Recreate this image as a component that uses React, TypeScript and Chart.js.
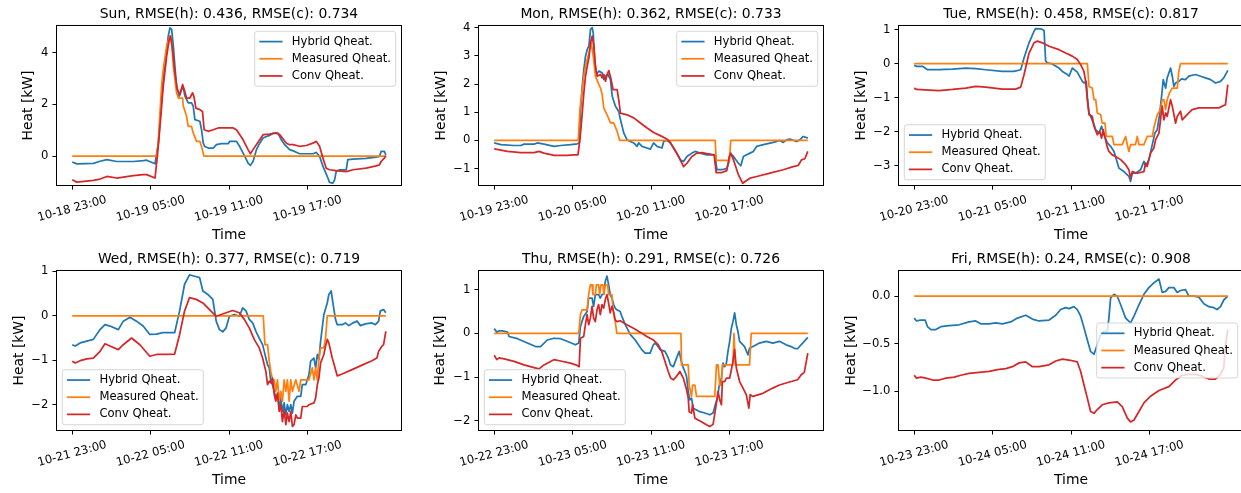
import React, { useEffect, useRef } from "react";
import { Chart, registerables } from "chart.js";

Chart.register(...registerables);

type Series = [number, number][];

const FONT = '"DejaVu Sans", sans-serif';
const seriesNames = ["Hybrid Qheat.", "Measured Qheat.", "Conv Qheat."];
const seriesColors = ["#1f77b4", "#ff7f0e", "#d62728"];
const xTickHours = [0, 6, 12, 18];

// ---------- Sun ----------
const sunXLabels = ["10-18 23:00", "10-19 05:00", "10-19 11:00", "10-19 17:00"];
const sunYTicks = [0, 2, 4];
const sunHybrid: Series = [[0,-0.23],[0.36,-0.3],[1.63,-0.28],[2.14,-0.2],[2.65,-0.14],[3.41,-0.21],[4.68,-0.21],[5.45,-0.18],[5.7,-0.16],[6.34,-0.3],[6.59,0.5],[6.84,2.19],[6.97,2.96],[7.15,3.74],[7.35,4.65],[7.48,4.97],[7.61,4.91],[7.74,4.26],[7.86,3.48],[7.99,2.71],[8.19,2.32],[8.37,2.58],[8.5,2.64],[8.63,2.32],[8.88,2.06],[9.13,2.06],[9.26,1.94],[9.39,1.41],[9.77,1.35],[9.9,1.02],[10.03,0.5],[10.15,0.37],[10.41,0.31],[10.79,0.31],[11.04,0.44],[11.42,0.48],[11.93,0.48],[12.06,0.57],[12.57,0.57],[12.82,0.37],[13.21,-0.01],[13.46,-0.27],[13.64,-0.36],[13.84,-0.21],[14.1,0.25],[14.35,0.5],[14.61,0.7],[14.86,0.76],[15.11,0.8],[15.37,0.89],[15.75,0.89],[16.0,0.63],[16.26,0.44],[16.64,0.25],[17.02,0.18],[17.4,0.09],[17.91,0.09],[18.42,0.09],[18.68,0.14],[18.93,-0.01],[19.19,-0.4],[19.57,-0.85],[19.69,-1.02],[19.95,-1.05],[20.08,-0.92],[20.2,-0.6],[20.46,-0.53],[20.97,-0.53],[21.09,-0.14],[21.48,-0.12],[22.49,-0.09],[23.26,-0.04],[23.51,-0.01],[23.64,0.18],[23.89,0.18],[24,0.05]];
const sunMeasured: Series = [[0,0],[6.46,0],[6.59,0.5],[6.72,1.67],[6.84,2.72],[6.97,3.37],[7.23,4.27],[7.48,4.66],[7.61,4.39],[7.74,3.48],[7.99,2.45],[8.12,2.25],[8.45,2.25],[8.5,1.94],[8.75,1.55],[8.88,1.15],[9.13,1.15],[9.26,0.9],[9.52,0.57],[9.77,0.57],[9.9,0.37],[10.08,0],[24,0]];
const sunConv: Series = [[0,-0.92],[0.36,-1.01],[1.63,-0.94],[2.14,-0.89],[2.65,-0.79],[3.41,-0.85],[4.68,-0.76],[5.45,-0.72],[5.7,-0.72],[6.34,-0.85],[6.52,0],[6.72,1.15],[6.97,2.71],[7.23,3.87],[7.43,4.52],[7.53,4.65],[7.68,4.13],[7.86,3.22],[8.04,2.58],[8.24,2.38],[8.45,2.77],[8.57,2.58],[8.75,2.25],[9.01,2.25],[9.21,2.45],[9.31,2.32],[9.47,1.86],[9.77,1.8],[9.97,1.73],[10.1,1.02],[10.41,0.96],[10.79,1.02],[11.17,1.09],[12.32,1.09],[12.57,1.02],[13.08,0.63],[13.46,0.25],[13.64,0.09],[13.84,0.25],[14.35,0.63],[14.61,0.83],[15.11,0.85],[15.62,0.89],[15.88,0.83],[16.39,0.5],[16.64,0.44],[16.9,0.44],[17.4,0.38],[17.91,0.41],[18.42,0.5],[18.68,0.57],[18.93,0.38],[19.19,-0.08],[19.44,-0.47],[19.69,-0.53],[20.2,-0.56],[20.97,-0.6],[21.48,-0.53],[22.49,-0.47],[23.26,-0.38],[23.51,-0.34],[23.64,-0.21],[23.89,-0.08],[24,0.01]];

// ---------- Mon ----------
const monXLabels = ["10-19 23:00", "10-20 05:00", "10-20 11:00", "10-20 17:00"];
const monYTicks = [-1, 0, 1, 2, 3, 4];
const monHybrid: Series = [[0,-0.09],[0.51,-0.15],[1.53,-0.18],[2.03,-0.18],[2.29,-0.13],[3.05,-0.13],[3.31,-0.09],[3.81,-0.13],[4.58,-0.21],[5.09,-0.18],[5.85,-0.15],[6.36,-0.12],[6.51,-0.09],[6.61,1.09],[6.74,1.92],[6.86,2.52],[6.99,2.99],[7.12,3.23],[7.25,3.35],[7.37,3.94],[7.5,4.0],[7.58,3.82],[7.68,2.87],[7.83,2.34],[8.01,2.46],[8.26,2.4],[8.39,2.16],[8.52,2.28],[8.7,2.34],[8.9,2.16],[9.03,1.57],[9.28,1.21],[9.53,1.03],[9.66,0.74],[9.92,0.26],[10.17,0.02],[10.42,-0.04],[10.68,-0.09],[10.93,-0.21],[11.06,-0.09],[11.31,-0.21],[11.7,-0.27],[11.95,-0.31],[12.2,-0.09],[12.46,-0.21],[12.84,-0.27],[12.97,-0.04],[13.22,0],[13.48,-0.09],[13.73,-0.27],[13.98,-0.45],[14.24,-0.69],[14.49,-0.75],[14.75,-0.57],[15.13,-0.45],[15.38,-0.39],[15.76,-0.45],[16.27,-0.51],[16.91,-0.51],[17.04,-1.04],[17.42,-1.04],[17.8,-0.99],[17.93,-0.81],[18.05,-0.45],[18.31,-0.57],[18.69,-0.81],[18.87,-0.9],[19.07,-0.57],[19.32,-0.51],[19.58,-0.45],[19.83,-0.39],[20.09,-0.21],[20.6,-0.15],[21.36,-0.07],[21.87,0],[22.12,-0.07],[22.37,0.02],[22.63,0.05],[23.14,-0.04],[23.39,0.02],[23.65,0.14],[24,0.08]];
const monMeasured: Series = [[0,0],[6.43,0],[6.56,1.09],[6.74,1.8],[6.86,2.28],[6.99,2.63],[7.12,2.87],[7.25,3.1],[7.42,3.47],[7.58,2.99],[7.75,2.28],[8.01,1.98],[8.14,1.86],[8.26,1.63],[8.39,1.15],[8.64,0.91],[8.9,0.62],[9.15,0.62],[9.41,0.32],[9.61,0],[16.91,0],[16.99,-0.71],[18.0,-0.71],[18.1,0],[24,0]];
const monConv: Series = [[0,-0.3],[1.02,-0.39],[2.03,-0.43],[3.05,-0.43],[3.43,-0.39],[3.81,-0.45],[4.58,-0.53],[5.59,-0.53],[6.1,-0.51],[6.41,-0.51],[6.56,0.02],[6.74,0.97],[6.86,1.69],[6.99,2.28],[7.12,2.63],[7.25,2.93],[7.37,3.47],[7.5,3.7],[7.63,3.35],[7.75,2.63],[7.88,2.28],[8.14,2.34],[8.26,2.22],[8.39,2.34],[8.52,2.1],[8.64,2.34],[8.77,2.48],[8.95,2.16],[9.1,1.8],[9.41,1.8],[9.53,1.45],[9.66,0.97],[10.17,0.91],[10.68,0.8],[11.19,0.62],[11.7,0.44],[12.2,0.28],[12.71,0.17],[13.22,0.05],[13.48,-0.07],[13.73,-0.27],[14.11,-0.57],[14.49,-0.93],[14.75,-0.81],[15.13,-0.57],[15.51,-0.45],[15.89,-0.43],[16.27,-0.47],[16.83,-0.51],[16.99,-1.14],[17.42,-1.14],[17.8,-1.07],[18.0,-0.57],[18.1,-0.45],[18.31,-0.69],[18.69,-1.22],[19.02,-1.52],[19.2,-1.46],[19.58,-1.34],[20.09,-1.28],[21.1,-1.16],[22.12,-1.04],[22.88,-0.93],[23.26,-0.89],[23.52,-0.69],[23.77,-0.65],[24,-0.39]];

// ---------- Tue ----------
const tueXLabels = ["10-20 23:00", "10-21 05:00", "10-21 11:00", "10-21 17:00"];
const tueYTicks = [-3, -2, -1, 0, 1];
const tueHybrid: Series = [[0,-0.05],[0.18,-0.08],[0.64,-0.08],[1.02,-0.18],[1.91,-0.18],[2.93,-0.16],[3.95,-0.13],[4.71,-0.15],[5.48,-0.18],[6.75,-0.23],[7.64,-0.23],[8.15,-0.18],[8.41,0.17],[8.79,0.61],[9.17,0.95],[9.3,1.03],[9.68,1.02],[9.81,1.0],[9.94,0.97],[10.06,0.07],[10.19,0.02],[10.57,-0.01],[11.08,-0.13],[11.34,-0.23],[11.72,-0.32],[11.85,-0.37],[12.1,-0.13],[12.48,-0.25],[12.87,-0.52],[12.99,-0.57],[13.17,-0.52],[13.27,-1.06],[13.38,-1.45],[13.5,-1.55],[13.76,-1.79],[13.89,-1.94],[14.14,-2.04],[14.34,-1.84],[14.52,-2.09],[14.78,-2.33],[15.03,-2.43],[15.29,-2.58],[15.67,-3.07],[16.05,-3.17],[16.43,-3.31],[16.56,-3.46],[16.69,-3.22],[16.94,-3.22],[17.32,-3.12],[17.58,-2.87],[17.71,-3.02],[17.96,-2.82],[18.22,-2.38],[18.42,-2.04],[18.6,-1.94],[18.78,-1.5],[18.93,-0.96],[19.06,-0.47],[19.24,-0.72],[19.36,-0.42],[19.62,-0.13],[19.75,-0.37],[19.87,-0.67],[20.0,-0.57],[20.25,-0.52],[20.46,-0.45],[20.76,-0.47],[21.02,-0.37],[21.53,-0.32],[21.91,-0.37],[22.29,-0.42],[22.68,-0.47],[23.06,-0.57],[23.44,-0.52],[23.69,-0.42],[24,-0.2]];
const tueMeasured: Series = [[0,0],[13.25,0],[13.38,-0.67],[13.63,-0.72],[13.76,-1.06],[13.89,-1.06],[14.01,-1.45],[14.27,-1.5],[14.39,-1.75],[14.6,-1.75],[14.7,-2.14],[15.16,-2.14],[15.29,-2.38],[15.92,-2.38],[16.18,-2.14],[16.31,-2.38],[16.43,-2.58],[16.56,-2.38],[16.94,-2.38],[17.07,-2.14],[17.2,-2.38],[17.58,-2.38],[17.83,-2.14],[18.22,-2.14],[18.34,-1.89],[18.6,-1.5],[18.85,-1.35],[18.98,-1.06],[19.11,-1.06],[19.24,-1.35],[19.36,-1.06],[19.54,-0.86],[19.75,-0.72],[20.13,-0.72],[20.25,-0.23],[20.38,0],[24,0]];
const tueConv: Series = [[0,-0.72],[0.18,-0.76],[1.15,-0.78],[1.91,-0.79],[2.93,-0.76],[3.95,-0.72],[4.71,-0.67],[5.48,-0.69],[6.75,-0.75],[7.77,-0.75],[8.15,-0.69],[8.41,-0.32],[8.79,0.31],[9.17,0.61],[9.43,0.66],[9.81,0.61],[10.32,0.51],[11.08,0.41],[11.59,0.31],[12.1,0.22],[12.48,0.12],[12.74,-0.03],[12.99,-0.23],[13.12,-0.52],[13.25,-1.06],[13.38,-1.5],[13.63,-1.55],[13.76,-1.84],[14.01,-2.09],[14.2,-1.99],[14.34,-2.19],[14.46,-1.94],[14.59,-2.14],[14.76,-2.43],[14.9,-2.58],[15.16,-2.68],[15.41,-2.73],[15.8,-2.82],[16.18,-2.97],[16.43,-3.12],[16.56,-3.36],[16.69,-3.17],[17.07,-3.22],[17.58,-3.17],[17.71,-2.92],[17.83,-3.02],[18.09,-2.63],[18.34,-2.48],[18.47,-2.24],[18.73,-2.04],[18.85,-1.65],[18.98,-1.25],[19.11,-1.65],[19.24,-1.45],[19.36,-1.55],[19.62,-1.06],[19.75,-1.25],[20.0,-1.75],[20.13,-1.55],[20.38,-1.4],[20.51,-1.65],[20.76,-1.55],[21.02,-1.45],[21.27,-1.35],[21.78,-1.3],[22.8,-1.3],[23.31,-1.3],[23.57,-1.25],[23.82,-1.21],[24,-0.62]];

// ---------- Wed ----------
const wedXLabels = ["10-21 23:00", "10-22 05:00", "10-22 11:00", "10-22 17:00"];
const wedYTicks = [-2, -1, 0, 1];
const wedHybrid: Series = [[0,-0.65],[0.23,-0.68],[0.61,-0.61],[1.12,-0.57],[1.62,-0.53],[2.13,-0.31],[2.51,-0.2],[2.89,-0.23],[3.53,-0.31],[3.91,-0.12],[4.42,-0.03],[4.92,-0.12],[5.43,-0.23],[5.94,-0.42],[6.45,-0.41],[6.95,-0.38],[7.46,-0.38],[7.84,-0.38],[8.22,0.11],[8.6,0.71],[8.98,0.92],[9.37,0.89],[9.75,0.86],[10.0,0.56],[10.38,0.48],[10.76,0.37],[11.02,-0.12],[11.27,-0.31],[11.52,-0.36],[11.78,-0.27],[12.03,-0.01],[12.41,0.03],[12.79,-0.01],[13.05,0.18],[13.3,0.11],[13.55,-0.08],[13.81,-0.16],[14.06,-0.35],[14.31,-0.5],[14.57,-0.65],[14.7,-0.8],[14.82,-0.95],[14.95,-1.1],[15.08,-1.17],[15.2,-1.47],[15.33,-1.55],[15.46,-1.7],[15.58,-1.85],[15.71,-1.77],[15.84,-2.04],[15.96,-1.85],[16.09,-2.15],[16.22,-1.96],[16.35,-2.23],[16.47,-2.0],[16.6,-2.15],[16.73,-2.0],[16.85,-2.19],[16.98,-1.92],[17.23,-1.81],[17.49,-1.81],[17.61,-1.55],[17.87,-1.55],[18.12,-1.32],[18.25,-1.02],[18.5,-0.95],[18.63,-1.17],[18.76,-0.87],[18.88,-0.98],[19.01,-0.57],[19.26,0.03],[19.52,0.29],[19.64,0.48],[19.82,0.56],[19.95,0.29],[20.15,-0.08],[20.28,-0.2],[20.66,-0.2],[20.91,-0.16],[21.17,-0.22],[21.42,-0.17],[21.8,-0.12],[22.06,-0.22],[22.44,-0.18],[22.94,-0.16],[23.2,-0.2],[23.45,-0.12],[23.58,0.11],[23.83,0.14],[24,0.07]];
const wedMeasured: Series = [[0,0],[14.62,0],[14.75,-0.65],[14.95,-0.65],[15.08,-1.02],[15.2,-1.25],[15.33,-1.44],[15.46,-1.44],[15.58,-1.7],[15.71,-1.44],[15.84,-1.92],[15.96,-1.7],[16.09,-1.92],[16.22,-1.44],[16.35,-1.7],[16.47,-1.44],[16.6,-1.92],[16.73,-1.44],[16.85,-1.7],[17.11,-1.44],[17.36,-1.7],[17.49,-1.44],[18.12,-1.44],[18.38,-1.17],[18.5,-1.44],[18.63,-1.17],[18.76,-1.44],[18.88,-0.95],[19.01,-0.72],[19.26,-0.72],[19.39,-0.5],[19.52,0],[24,0]];
const wedConv: Series = [[0,-1.02],[0.23,-1.06],[0.61,-1.01],[1.12,-0.97],[1.62,-0.95],[2.13,-0.8],[2.51,-0.63],[2.89,-0.68],[3.53,-0.76],[3.91,-0.65],[4.54,-0.5],[5.18,-0.65],[5.94,-0.91],[6.45,-0.87],[7.21,-0.87],[7.84,-0.86],[8.22,-0.42],[8.6,0.11],[8.98,0.41],[9.49,0.37],[10.0,0.29],[10.51,0.14],[11.02,-0.01],[11.4,0.03],[11.78,0.07],[12.28,0.12],[12.79,0.07],[13.17,-0.08],[13.55,-0.27],[13.93,-0.53],[14.31,-0.72],[14.57,-0.95],[14.82,-1.25],[14.95,-1.55],[15.08,-1.47],[15.2,-1.51],[15.33,-1.4],[15.46,-1.77],[15.58,-1.92],[15.71,-1.74],[15.84,-2.15],[15.96,-2.0],[16.09,-2.38],[16.22,-2.11],[16.35,-2.45],[16.47,-2.19],[16.6,-2.38],[16.73,-2.15],[16.85,-2.49],[16.98,-2.45],[17.11,-2.23],[17.23,-2.3],[17.49,-2.3],[17.61,-2.04],[17.99,-2.04],[18.12,-2.0],[18.5,-1.96],[18.63,-1.85],[18.76,-1.55],[18.88,-1.4],[19.01,-1.06],[19.26,-0.87],[19.39,-0.68],[19.52,-0.53],[19.64,-0.61],[19.9,-0.95],[20.15,-1.21],[20.28,-1.35],[20.66,-1.31],[21.42,-1.21],[22.18,-1.11],[22.94,-1.01],[23.32,-0.95],[23.45,-0.8],[23.71,-0.68],[23.83,-0.65],[24,-0.35]];

// ---------- Thu ----------
const thuXLabels = ["10-22 23:00", "10-23 05:00", "10-23 11:00", "10-23 17:00"];
const thuYTicks = [-2, -1, 0, 1];
const thuHybrid: Series = [[0,0.11],[0.2,0.03],[0.38,0.06],[0.63,0.06],[1.02,0.03],[1.14,-0.07],[1.78,-0.12],[2.54,-0.22],[3.17,-0.3],[3.55,-0.3],[4.06,-0.15],[4.57,-0.11],[5.08,-0.12],[5.58,-0.18],[6.22,-0.26],[6.47,-0.22],[6.6,0.16],[6.85,0.39],[7.11,0.5],[7.23,0.81],[7.49,0.81],[7.61,0.62],[7.74,0.89],[7.99,0.89],[8.12,0.81],[8.25,0.89],[8.38,0.9],[8.5,1.19],[8.63,1.31],[8.76,1.11],[8.88,0.89],[9.01,0.81],[9.14,0.66],[9.26,0.58],[9.39,0.54],[9.64,0.5],[9.77,0.39],[10.03,0.2],[10.41,-0.02],[10.79,-0.15],[11.04,-0.26],[11.29,-0.37],[11.55,-0.45],[11.93,-0.45],[12.18,-0.26],[12.31,-0.22],[12.44,-0.26],[12.69,-0.37],[13.07,-0.41],[13.32,-0.56],[13.5,-0.72],[13.71,-0.76],[13.96,-0.56],[14.16,-0.41],[14.29,-0.6],[14.47,-0.79],[14.59,-0.87],[14.72,-0.98],[14.85,-1.33],[14.97,-1.52],[15.1,-1.48],[15.23,-1.71],[15.48,-1.75],[15.74,-1.79],[16.12,-1.82],[16.5,-1.86],[16.75,-1.82],[16.95,-1.6],[17.08,-1.48],[17.21,-1.21],[17.39,-1.02],[17.51,-0.68],[17.64,-0.76],[17.77,-0.68],[17.89,-0.41],[18.02,-0.18],[18.15,0.12],[18.27,0.27],[18.4,0.47],[18.53,0.2],[18.65,0.05],[18.78,-0.18],[18.91,-0.22],[19.16,-0.3],[19.42,-0.49],[19.54,-0.34],[19.8,-0.3],[20.3,-0.22],[20.81,-0.18],[21.32,-0.22],[21.83,-0.18],[22.34,-0.26],[22.72,-0.3],[22.97,-0.34],[23.22,-0.35],[23.48,-0.26],[23.73,-0.18],[24,-0.09]];
const thuMeasured: Series = [[0,0],[6.47,0],[6.6,0.43],[6.73,0.54],[7.11,0.54],[7.23,0.89],[7.36,1.11],[7.49,1.11],[7.56,0.89],[7.74,0.89],[7.82,1.11],[7.99,1.11],[8.07,0.89],[8.17,1.11],[8.32,1.11],[8.4,0.89],[8.5,1.11],[8.68,1.11],[8.76,0.89],[9.01,0.89],[9.09,0.54],[9.26,0.27],[9.39,0],[14.29,0],[14.34,-0.72],[14.85,-0.72],[14.92,-1.18],[15.1,-1.44],[15.18,-1.18],[15.36,-1.18],[15.48,-1.44],[16.88,-1.44],[17.01,-0.72],[17.13,-0.72],[17.26,-1.18],[17.39,-1.18],[17.46,-0.72],[18.27,-0.72],[18.35,0],[18.45,-0.72],[19.54,-0.72],[19.67,0],[24,0]];
const thuConv: Series = [[0,-0.5],[0.2,-0.6],[0.38,-0.56],[0.76,-0.58],[1.52,-0.64],[2.28,-0.72],[3.05,-0.78],[3.43,-0.81],[3.81,-0.72],[4.57,-0.6],[5.08,-0.63],[5.84,-0.68],[6.35,-0.73],[6.5,-0.76],[6.6,-0.11],[6.85,-0.07],[6.98,0.2],[7.11,0.43],[7.23,0.2],[7.36,0.35],[7.49,0.62],[7.61,0.35],[7.74,0.27],[7.87,0.54],[7.99,0.66],[8.12,0.43],[8.25,0.66],[8.38,0.58],[8.5,0.77],[8.63,0.89],[8.76,0.69],[8.88,0.47],[9.01,0.62],[9.14,0.5],[9.26,0.31],[9.39,0.27],[9.64,0.29],[10.15,0.2],[10.66,0.12],[11.17,0.03],[11.68,-0.07],[12.18,-0.15],[12.56,-0.26],[12.82,-0.41],[13.07,-0.64],[13.32,-0.87],[13.5,-1.02],[13.71,-1.06],[13.96,-0.98],[14.21,-0.87],[14.47,-1.02],[14.72,-1.29],[14.85,-1.48],[14.92,-1.79],[15.1,-1.82],[15.18,-1.63],[15.36,-1.94],[15.61,-1.98],[15.86,-2.02],[16.24,-2.09],[16.5,-2.13],[16.75,-2.08],[16.95,-1.71],[17.13,-1.33],[17.26,-1.52],[17.39,-1.63],[17.46,-1.1],[17.64,-1.1],[17.77,-1.02],[18.02,-1.02],[18.15,-0.83],[18.27,-0.64],[18.4,-0.37],[18.53,-0.79],[18.78,-1.1],[19.04,-1.25],[19.29,-1.4],[19.42,-1.6],[19.49,-1.71],[19.59,-1.4],[19.8,-1.44],[20.56,-1.37],[21.32,-1.25],[21.83,-1.18],[22.59,-1.11],[23.22,-1.06],[23.48,-0.95],[23.73,-0.89],[24,-0.45]];

// ---------- Fri ----------
const friXLabels = ["10-23 23:00", "10-24 05:00", "10-24 11:00", "10-24 17:00"];
const friYTicks = [-1, -0.5, 0];
const friHybrid: Series = [[0,-0.23],[0.18,-0.26],[0.51,-0.25],[0.84,-0.25],[1.02,-0.32],[1.27,-0.35],[1.66,-0.35],[2.04,-0.32],[2.68,-0.31],[3.44,-0.3],[4.2,-0.27],[4.71,-0.26],[5.1,-0.29],[5.73,-0.29],[6.24,-0.28],[6.75,-0.29],[7.39,-0.27],[7.9,-0.23],[8.54,-0.2],[9.04,-0.24],[9.55,-0.26],[10.32,-0.25],[10.83,-0.2],[11.21,-0.14],[11.59,-0.12],[11.85,-0.13],[12.23,-0.11],[12.48,-0.14],[12.74,-0.21],[12.99,-0.33],[13.25,-0.46],[13.5,-0.58],[13.76,-0.61],[14.01,-0.51],[14.27,-0.4],[14.52,-0.37],[14.78,-0.37],[14.9,-0.23],[15.03,-0.02],[15.29,0.02],[15.54,0.0],[15.8,-0.09],[16.18,-0.23],[16.56,-0.28],[16.82,-0.21],[17.2,-0.09],[17.58,0.02],[17.96,0.09],[18.34,0.14],[18.73,0.18],[18.98,0.04],[19.24,0.05],[19.49,0.09],[19.87,0.09],[20.13,0.04],[20.38,0.06],[20.76,0.07],[21.02,0.0],[21.4,0.0],[21.78,-0.01],[22.17,-0.08],[22.55,-0.11],[22.93,-0.12],[23.18,-0.14],[23.44,-0.11],[23.69,-0.04],[24,0.0]];
const friMeasured: Series = [[0,0],[24,0]];
const friConv: Series = [[0,-0.83],[0.18,-0.86],[0.51,-0.85],[0.89,-0.86],[1.4,-0.88],[1.91,-0.88],[2.42,-0.86],[3.06,-0.85],[3.57,-0.83],[4.2,-0.81],[4.97,-0.8],[5.73,-0.79],[6.37,-0.77],[7.01,-0.76],[7.52,-0.74],[8.03,-0.7],[8.54,-0.69],[9.04,-0.74],[9.55,-0.74],[10.32,-0.72],[10.83,-0.68],[11.34,-0.66],[11.85,-0.67],[12.48,-0.69],[12.74,-0.79],[12.99,-0.93],[13.25,-1.07],[13.5,-1.21],[13.76,-1.23],[14.01,-1.19],[14.39,-1.14],[14.9,-1.12],[15.54,-1.11],[15.92,-1.16],[16.31,-1.28],[16.56,-1.32],[16.82,-1.3],[17.2,-1.21],[17.58,-1.12],[18.09,-1.05],[18.73,-0.99],[19.49,-0.95],[20.0,-0.88],[20.51,-0.83],[21.02,-0.82],[21.53,-0.82],[22.04,-0.84],[22.55,-0.87],[23.06,-0.87],[23.44,-0.82],[23.69,-0.75],[23.82,-0.51],[24,-0.35]];

type PanelCfg = {
  title: string;
  hybrid: Series;
  measured: Series;
  conv: Series;
  yMin: number;
  yMax: number;
  yTicks: number[];
  decimals: number;
  xLabels: string[];
  legendLoc: string;
  yTitlePad: number;
};

const panels: PanelCfg[] = [
  { title: "Sun, RMSE(h): 0.436, RMSE(c): 0.734", hybrid: sunHybrid, measured: sunMeasured, conv: sunConv, yMin: -1.14, yMax: 5.06, yTicks: sunYTicks, decimals: 0, xLabels: sunXLabels, legendLoc: "upper right", yTitlePad: 20.15 },
  { title: "Mon, RMSE(h): 0.362, RMSE(c): 0.733", hybrid: monHybrid, measured: monMeasured, conv: monConv, yMin: -1.6, yMax: 4.08, yTicks: monYTicks, decimals: 0, xLabels: monXLabels, legendLoc: "upper right", yTitlePad: 10.65 },
  { title: "Tue, RMSE(h): 0.458, RMSE(c): 0.817", hybrid: tueHybrid, measured: tueMeasured, conv: tueConv, yMin: -3.58, yMax: 1.12, yTicks: tueYTicks, decimals: 0, xLabels: tueXLabels, legendLoc: "lower left", yTitlePad: 10.65 },
  { title: "Wed, RMSE(h): 0.377, RMSE(c): 0.719", hybrid: wedHybrid, measured: wedMeasured, conv: wedConv, yMin: -2.58, yMax: 1.02, yTicks: wedYTicks, decimals: 0, xLabels: wedXLabels, legendLoc: "lower left", yTitlePad: 10.65 },
  { title: "Thu, RMSE(h): 0.291, RMSE(c): 0.726", hybrid: thuHybrid, measured: thuMeasured, conv: thuConv, yMin: -2.22, yMax: 1.44, yTicks: thuYTicks, decimals: 0, xLabels: thuXLabels, legendLoc: "lower left", yTitlePad: 10.15 },
  { title: "Fri, RMSE(h): 0.24, RMSE(c): 0.908", hybrid: friHybrid, measured: friMeasured, conv: friConv, yMin: -1.41, yMax: 0.27, yTicks: friYTicks, decimals: 1, xLabels: friXLabels, legendLoc: "center right", yTitlePad: 0.65 },
];

const CANVAS_W = 421;
const CANVAS_H = 245;
const colLefts = [0, 422, 842];
const rowTops = [0, 245];

function fmtTick(v: number, decimals: number): string {
  return v.toFixed(decimals).replace("-", "\u2212");
}

const frameLegendPlugin = {
  id: "frameLegend",
  afterDraw(chart: any, _args: any, opts: any) {
    const { ctx, chartArea: a } = chart;
    ctx.save();
    // full box of spines
    ctx.strokeStyle = "#000";
    ctx.lineWidth = 1;
    ctx.strokeRect(a.left, a.top, a.right - a.left, a.bottom - a.top);

    // legend
    const fs = 11.6;
    ctx.font = `${fs}px ${FONT}`;
    const ds = chart.data.datasets;
    const pad = 0.4 * fs;
    const handle = 2 * fs;
    const gap = 0.8 * fs;
    const th = 0.98 * fs;
    const sp = 0.5 * fs;
    const axPad = 0.5 * fs;
    const tw = Math.max(...ds.map((d: any) => ctx.measureText(d.label).width));
    const w = pad + handle + gap + tw + pad;
    const h = 2 * pad + ds.length * th + (ds.length - 1) * sp;
    let x: number;
    let y: number;
    if (opts.loc === "upper right") {
      x = a.right - axPad - w;
      y = a.top + axPad;
    } else if (opts.loc === "lower left") {
      x = a.left + axPad;
      y = a.bottom - axPad - h;
    } else {
      x = a.right - axPad - w;
      y = (a.top + a.bottom) / 2 - h / 2;
    }
    ctx.beginPath();
    ctx.roundRect(x, y, w, h, 2.5);
    ctx.fillStyle = "rgba(255,255,255,0.8)";
    ctx.fill();
    ctx.strokeStyle = "rgba(204,204,204,0.8)";
    ctx.lineWidth = 1;
    ctx.stroke();
    ds.forEach((d: any, i: number) => {
      const cy = y + pad + th / 2 + i * (th + sp);
      ctx.beginPath();
      ctx.moveTo(x + pad, cy);
      ctx.lineTo(x + pad + handle, cy);
      ctx.strokeStyle = d.borderColor;
      ctx.lineWidth = 1.74;
      ctx.stroke();
      ctx.fillStyle = "#000";
      ctx.textBaseline = "middle";
      ctx.textAlign = "left";
      ctx.fillText(d.label, x + pad + handle + gap, cy);
    });
    ctx.restore();
  },
};

function Panel({ p, left, top }: { p: PanelCfg; left: number; top: number }) {
  const ref = useRef<HTMLCanvasElement>(null);
  useEffect(() => {
    const canvas = ref.current!;
    const tickGrid = {
      display: true,
      drawOnChartArea: false,
      drawTicks: true,
      tickLength: 4.05,
      color: "#000",
      lineWidth: 1,
    };
    const chart = new Chart(canvas, {
      type: "line",
      data: {
        datasets: [p.hybrid, p.measured, p.conv].map((s, i) => ({
          label: seriesNames[i],
          data: s.map(([x, y]) => ({ x, y })),
          borderColor: seriesColors[i],
          backgroundColor: seriesColors[i],
          borderWidth: 1.74,
          pointRadius: 0,
          pointHoverRadius: 0,
          tension: 0,
          fill: false,
          order: 3 - i,
          borderJoinStyle: "round",
        })),
      },
      options: {
        animation: false,
        responsive: false,
        devicePixelRatio: 1,
        events: [],
        layout: { padding: { left: 0, top: 0, right: 19.5, bottom: 0 }, autoPadding: false },
        plugins: {
          legend: { display: false },
          tooltip: { enabled: false },
          title: {
            display: true,
            fullSize: false,
            text: p.title,
            color: "#000",
            font: { family: FONT, size: 13.9, weight: "normal", lineHeight: 1.2 },
            padding: { top: 5.65, bottom: 3.15 },
          },
          frameLegend: { loc: p.legendLoc },
        } as any,
        scales: {
          x: {
            type: "linear",
            min: -1.2,
            max: 25.2,
            bounds: "data",
            afterFit: (s: any) => {
              s.height = 59.5;
              s.paddingLeft = 0;
              s.paddingRight = 0;
            },
            afterBuildTicks: (s: any) => {
              s.ticks = xTickHours.map((v) => ({ value: v }));
            },
            ticks: {
              autoSkip: false,
              minRotation: 15,
              maxRotation: 15,
              labelOffset: 34.2,
              padding: 3.5,
              color: "#000",
              font: { family: FONT, size: 11.6 },
              callback: (v: any) => p.xLabels[xTickHours.indexOf(Number(v))] ?? "",
            },
            grid: tickGrid,
            border: { display: false },
            title: {
              display: true,
              text: "Time",
              color: "#000",
              font: { family: FONT, size: 13.9, lineHeight: 1.2 },
              padding: { top: 0, bottom: 1.65 },
            },
          },
          y: {
            type: "linear",
            min: p.yMin,
            max: p.yMax,
            bounds: "data",
            afterFit: (s: any) => {
              s.width = 56.5;
            },
            afterBuildTicks: (s: any) => {
              s.ticks = p.yTicks.map((v) => ({ value: v }));
            },
            ticks: {
              autoSkip: false,
              padding: 4.05,
              color: "#000",
              font: { family: FONT, size: 11.6 },
              callback: (v: any) => fmtTick(Number(v), p.decimals),
            },
            grid: tickGrid,
            border: { display: false },
            title: {
              display: true,
              text: "Heat [kW]",
              color: "#000",
              font: { family: FONT, size: 13.9, lineHeight: 1.2 },
              padding: { top: p.yTitlePad, bottom: 0 },
            },
          },
        } as any,
      },
      plugins: [frameLegendPlugin as any],
    } as any);
    return () => chart.destroy();
  }, [p]);
  return (
    <canvas
      ref={ref}
      width={CANVAS_W}
      height={CANVAS_H}
      style={{ position: "absolute", left, top, width: CANVAS_W, height: CANVAS_H }}
    />
  );
}

export default function App() {
  return (
    <div
      style={{
        position: "fixed",
        left: 0,
        top: 0,
        width: 1241,
        height: 493,
        overflow: "hidden",
        background: "#fff",
      }}
    >
      {panels.map((p, i) => (
        <Panel key={i} p={p} left={colLefts[i % 3]} top={rowTops[Math.floor(i / 3)]} />
      ))}
    </div>
  );
}
